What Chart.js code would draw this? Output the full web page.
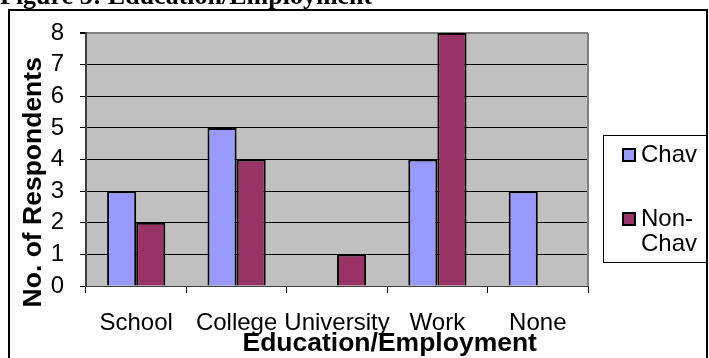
<!DOCTYPE html>
<html><head><meta charset="utf-8">
<script src="https://cdn.jsdelivr.net/npm/chart.js@4.4.1/dist/chart.umd.min.js"></script>
<style>html,body{margin:0;padding:0;background:#fff;overflow:hidden}#wrap{position:relative;width:709px;height:358px}</style>
</head><body><div id="wrap"><canvas id="c" width="709" height="358"></canvas></div>
<script>
const categories = ["School", "College", "University", "Work", "None"];
const chavValues = [3, 5, 0, 4, 3];
const nonChavValues = [2, 4, 1, 8, 0];
const seriesNames = ["Chav", "Non-Chav"];
const yTickMax = 8;
const chartTitle = "Figure 3: Education/Employment";
const xTitle = "Education/Employment";
const yTitle = "No. of Respondents";

const FONT = '"Liberation Sans", Arial, sans-serif';
const colors = ['#9999ff', '#993366'];

const deco = {
  id: 'deco',
  beforeDraw(chart) {
    const ctx = chart.ctx, a = chart.chartArea;
    ctx.save();
    ctx.fillStyle = '#fff'; ctx.fillRect(0, 0, chart.width, chart.height);
    ctx.fillStyle = '#c0c0c0'; ctx.fillRect(a.left, a.top, a.right - a.left, a.bottom - a.top);
    ctx.strokeStyle = '#000'; ctx.lineWidth = 2;
    ctx.strokeRect(9, 10, 698, 400);
    ctx.fillStyle = '#000';
    ctx.font = 'bold 26px "Liberation Serif", serif';
    ctx.textAlign = 'left'; ctx.textBaseline = 'alphabetic';
    ctx.fillText(chartTitle, 0, 4);
    ctx.restore();
  },
  afterDraw(chart) {
    const ctx = chart.ctx, a = chart.chartArea;
    ctx.save();
    ctx.strokeStyle = '#808080'; ctx.lineWidth = 2;
    ctx.beginPath(); ctx.moveTo(a.right, a.top); ctx.lineTo(a.right, a.bottom); ctx.stroke();
    ctx.fillStyle = '#000';
    ctx.font = 'bold 26.5px ' + FONT;
    ctx.textAlign = 'center'; ctx.textBaseline = 'middle';
    ctx.fillText(xTitle, a.left + (a.right - a.left) * 0.605, a.bottom + 58);
    ctx.translate(a.left - 52, a.top + (a.bottom - a.top) * 0.59);
    ctx.rotate(-Math.PI / 2);
    ctx.fillText(yTitle, 0, 0);
    ctx.restore();
    ctx.save();
    const lx = 603, ly = 135, lw = 103, lh = 127;
    ctx.strokeStyle = '#000'; ctx.lineWidth = 1;
    ctx.strokeRect(lx + 0.5, ly + 0.5, lw, lh);
    ctx.font = '24px ' + FONT;
    ctx.textAlign = 'left'; ctx.textBaseline = 'middle';
    const itemOffsets = [20, 84];
    chart.data.datasets.forEach((ds, i) => {
      const cy = ly + itemOffsets[i];
      ctx.fillStyle = ds.backgroundColor;
      ctx.fillRect(lx + 20, cy - 6, 12, 12);
      ctx.strokeStyle = '#000'; ctx.lineWidth = 2;
      ctx.strokeRect(lx + 20, cy - 6, 12, 12);
      ctx.fillStyle = '#000';
      const k = ds.label.indexOf('-');
      const parts = k >= 0 ? [ds.label.slice(0, k + 1), ds.label.slice(k + 1)] : [ds.label];
      parts.forEach((p, j) => ctx.fillText(p, lx + 38, cy + j * 25));
    });
    ctx.restore();
  }
};

new Chart(document.getElementById('c'), {
  type: 'bar',
  data: {
    labels: categories,
    datasets: [
      { label: seriesNames[0], data: chavValues, backgroundColor: colors[0], borderColor: '#000', borderWidth: 2 },
      { label: seriesNames[1], data: nonChavValues, backgroundColor: colors[1], borderColor: '#000', borderWidth: 2 }
    ]
  },
  options: {
    responsive: false,
    animation: false,
    devicePixelRatio: 1,
    categoryPercentage: 0.58,
    barPercentage: 1,
    layout: { padding: { left: 0, top: 33, right: 121, bottom: 0 } },
    plugins: { legend: { display: false }, tooltip: { enabled: false }, title: { display: false } },
    scales: {
      x: {
        afterFit(s) { s.height = 72; },
        grid: { offset: true, drawOnChartArea: false, drawTicks: true, tickLength: 7, color: '#000', tickColor: '#000' },
        border: { display: true, color: '#404040', width: 1 },
        ticks: { font: { family: FONT, size: 24 }, color: '#000', padding: 16, autoSkip: false, maxRotation: 0 }
      },
      y: {
        min: 0, max: yTickMax,
        afterFit(s) { s.width = 86; },
        grid: {
          color: (c) => c.tick && c.tick.value === yTickMax ? '#808080' : '#000',
          lineWidth: (c) => c.tick && c.tick.value === yTickMax ? 2 : 1,
          tickColor: '#000', tickLength: 6
        },
        border: { display: true, color: '#404040', width: 2 },
        ticks: { stepSize: 1, autoSkip: false, font: { family: FONT, size: 24 }, color: '#000', padding: 16 }
      }
    }
  },
  plugins: [deco]
});
</script>
</body></html>
